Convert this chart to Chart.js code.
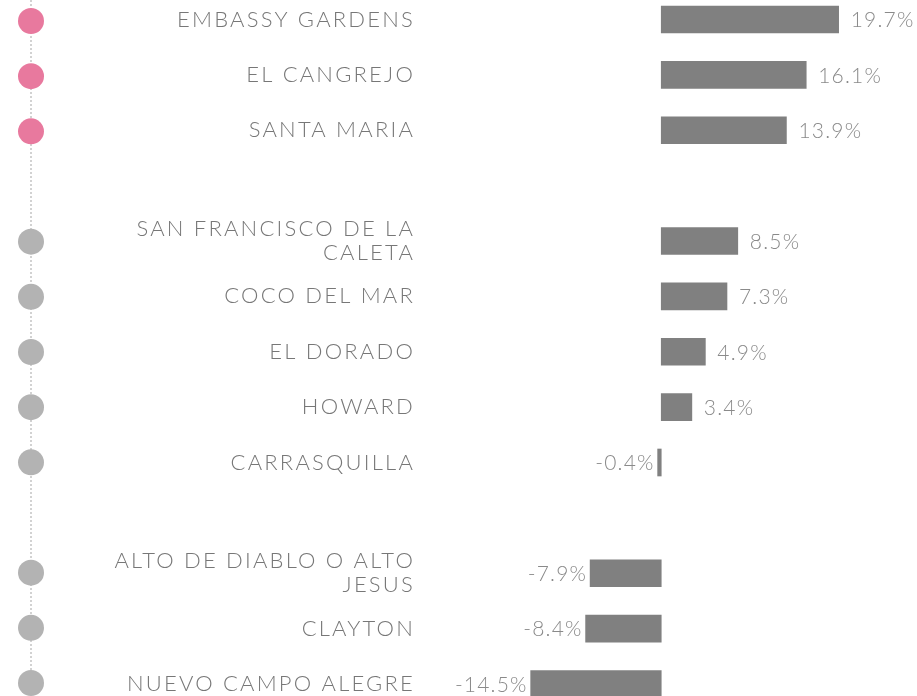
<!DOCTYPE html>
<html>
<head>
<meta charset="utf-8">
<script src="https://cdn.jsdelivr.net/npm/chart.js@4/dist/chart.umd.min.js"></script>
<style>
  html, body { margin: 0; padding: 0; background: #fff; }
  #wrap { position: relative; width: 917px; height: 696px; overflow: hidden; }
  #barBox { position: absolute; left: 0; top: 0; width: 917px; height: 696px; }
  #dotBox { position: absolute; left: 0; top: 0; width: 62px; height: 696px; }
</style>
</head>
<body>
<div id="wrap">
  <div id="barBox"><canvas id="bars"></canvas></div>
  <div id="dotBox"><canvas id="dots"></canvas></div>
</div>
<script>
// ---- data ----
const categories = [
  'EMBASSY GARDENS',
  'EL CANGREJO',
  'SANTA MARIA',
  '',
  ['SAN FRANCISCO DE LA', 'CALETA'],
  'COCO DEL MAR',
  'EL DORADO',
  'HOWARD',
  'CARRASQUILLA',
  '',
  ['ALTO DE DIABLO O ALTO', 'JESUS'],
  'CLAYTON',
  'NUEVO CAMPO ALEGRE'
];
const changePct = [19.7, 16.1, 13.9, null, 8.5, 7.3, 4.9, 3.4, -0.4, null, -7.9, -8.4, -14.5];
const groups = ['top', 'top', 'top', null, 'mid', 'mid', 'mid', 'mid', 'mid', null, 'low', 'low', 'low'];
const groupColors = { top: '#E8799E', mid: '#B3B3B3', low: '#B3B3B3' };

Chart.defaults.font.family = 'Lato, "Open Sans", sans-serif';
Chart.defaults.font.weight = 300;

const labelSpacing = '2.2px';
const letterSpacingPlugin = {
  id: 'letterSpacing',
  beforeUpdate(chart) { chart.ctx.letterSpacing = labelSpacing; },
  beforeLayout(chart) { chart.ctx.letterSpacing = labelSpacing; },
  beforeDraw(chart) { chart.ctx.letterSpacing = labelSpacing; }
};

const valueLabels = {
  id: 'valueLabels',
  afterDatasetsDraw(chart) {
    const ctx = chart.ctx;
    const meta = chart.getDatasetMeta(0);
    ctx.save();
    ctx.letterSpacing = '1.2px';
    ctx.font = '300 21px Lato, "Open Sans", sans-serif';
    ctx.fillStyle = '#8a8a8a';
    ctx.textBaseline = 'middle';
    meta.data.forEach((bar, i) => {
      const v = changePct[i];
      if (v === null || v === undefined) return;
      const txt = v.toFixed(1) + '%';
      if (v >= 0) {
        ctx.textAlign = 'left';
        ctx.fillText(txt, bar.x + 12, bar.y + 1);
      } else {
        ctx.textAlign = 'right';
        ctx.fillText(txt, bar.x - 3, bar.y + 1);
      }
    });
    ctx.restore();
  }
};

new Chart(document.getElementById('bars'), {
  type: 'bar',
  data: {
    labels: categories,
    datasets: [{
      data: changePct,
      backgroundColor: '#808080',
      borderWidth: 0,
      barThickness: 27,
      clip: false
    }]
  },
  options: {
    indexAxis: 'y',
    responsive: true,
    maintainAspectRatio: false,
    animation: false,
    layout: { padding: { top: 19.5, bottom: 12, left: 0, right: 0 } },
    plugins: { legend: { display: false }, tooltip: { enabled: false } },
    scales: {
      x: {
        type: 'linear',
        min: -26.9,
        max: 28.4,
        display: false
      },
      y: {
        type: 'category',
        offset: false,
        grid: { display: false, drawTicks: false, tickLength: 0 },
        border: { display: false },
        afterFit(scale) {
          scale.width = 419;
          scale.paddingTop = 0;
          scale.paddingBottom = 0;
        },
        ticks: {
          padding: 4,
          color: '#777777',
          font: { size: 22, weight: 300, lineHeight: 1.1 },
          autoSkip: false
        }
      }
    }
  },
  plugins: [letterSpacingPlugin, valueLabels]
});

const dottedLine = {
  id: 'dottedLine',
  beforeDatasetsDraw(chart) {
    const ctx = chart.ctx;
    const x = chart.scales.x.getPixelForValue(0);
    ctx.save();
    ctx.strokeStyle = '#d2d2d2';
    ctx.lineWidth = 2;
    ctx.setLineDash([2, 2]);
    ctx.beginPath();
    ctx.moveTo(x, 0);
    ctx.lineTo(x, chart.height);
    ctx.stroke();
    ctx.restore();
  }
};

new Chart(document.getElementById('dots'), {
  type: 'line',
  data: {
    labels: categories,
    datasets: [{
      data: groups.map(g => (g ? 0 : null)),
      showLine: false,
      pointRadius: 13,
      pointHoverRadius: 13,
      pointBorderWidth: 0,
      pointBackgroundColor: groups.map(g => (g ? groupColors[g] : 'transparent')),
      clip: false
    }]
  },
  options: {
    indexAxis: 'y',
    responsive: true,
    maintainAspectRatio: false,
    animation: false,
    layout: { padding: { top: 21, bottom: 12, left: 0, right: 0 } },
    plugins: { legend: { display: false }, tooltip: { enabled: false } },
    scales: {
      x: { type: 'linear', min: -1, max: 1, display: false },
      y: { type: 'category', offset: false, display: false }
    }
  },
  plugins: [dottedLine]
});
</script>
</body>
</html>
